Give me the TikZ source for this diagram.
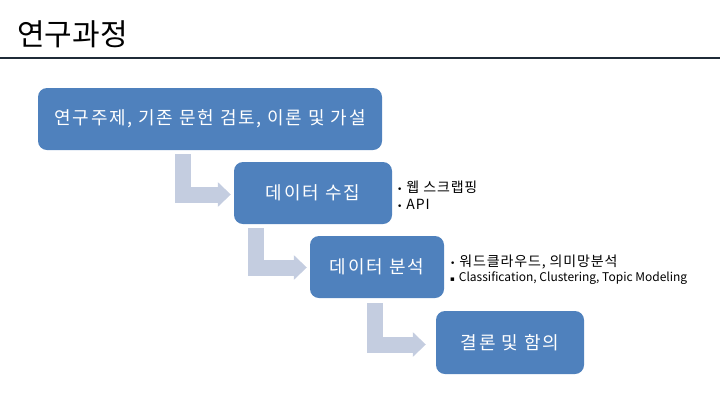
\documentclass[tikz,border=0pt]{standalone}
\usepackage{fontspec}
\setmainfont{Noto Sans CJK KR}
\newfontfamily\symfont{DejaVu Sans}
\usetikzlibrary{arrows.meta,calc}
\definecolor{boxblue}{HTML}{4F81BD}
\definecolor{arrowblue}{HTML}{C4CDE0}
\definecolor{rulecol}{HTML}{1F2B38}
\tikzset{
  stepbox/.style={rectangle, rounded corners=9pt, fill=boxblue, text=white, inner sep=0pt,
    font=\fontsize{18}{20}\selectfont\addfontfeatures{LetterSpace=10}},
  bentarrow/.style={draw=arrowblue, line width=16pt, line join=miter,
    -{Triangle[width=24pt,length=13pt]}},
  bullettext/.style={anchor=west, align=left, inner sep=0pt, text=black}
}
\newcommand{\bul}{{\symfont\fontsize{9}{10}\selectfont •}\ }
\newcommand{\sqbul}{{\symfont\fontsize{7}{10}\selectfont ▪}\ }
\begin{document}
\begin{tikzpicture}[x=1pt,y=-1pt]
\useasboundingbox (0,0) rectangle (720,405);
\node[anchor=base west, inner sep=0pt, font=\fontsize{30}{32}\selectfont\addfontfeatures{LetterSpace=0}] (title) at (17,45) {연구과정};
\draw[rulecol, line width=1.6pt] (0,58) -- (720,58);

\node[stepbox, minimum width=344pt, minimum height=62pt] (b1) at (210,119) {연구주제, 기존 문헌 검토, 이론 및 가설};
\node[stepbox, minimum width=158pt, minimum height=62pt] (b2) at (313,193) {데이터 수집};
\node[stepbox, minimum width=134pt, minimum height=62pt] (b3) at (377,267) {데이터 분석};
\node[stepbox, minimum width=148pt, minimum height=63pt] (b4) at (510,342.5) {결론 및 함의};

\coordinate (a1) at (183,154);
\coordinate (a2) at (256,228);
\coordinate (a3) at (375,303);
\draw[bentarrow] (a1) |- ([xshift=-3pt,yshift=-1.5pt]b2.west);
\draw[bentarrow] (a2) |- ([xshift=-3pt,yshift=-0.5pt]b3.west);
\draw[bentarrow] (a3) |- ([xshift=-10pt,yshift=-2pt]b4.west);

\node[bullettext, font=\fontsize{14}{16.5}\selectfont\addfontfeatures{LetterSpace=6}] (t2) at (397,195) {\bul 웹 스크랩핑\\\bul API};
\node[bullettext, font=\fontsize{14}{15.5}\selectfont\addfontfeatures{LetterSpace=6}] (t3) at (450,269.5) {\bul 워드클라우드, 의미망분석\\\sqbul{\fontsize{12}{15}\selectfont\addfontfeatures{LetterSpace=0}Classification, Clustering, Topic Modeling}};
\end{tikzpicture}
\end{document}
